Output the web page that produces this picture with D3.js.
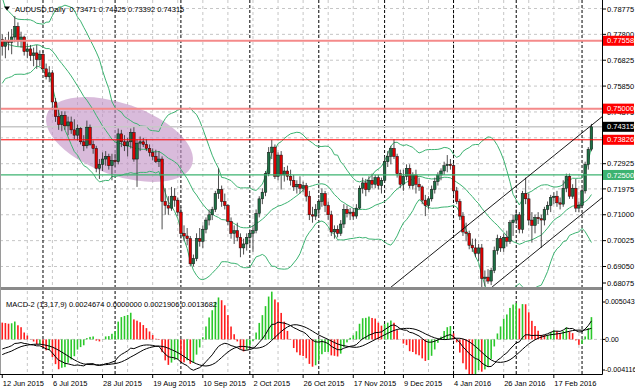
<!DOCTYPE html>
<html><head><meta charset="utf-8">
<script src="https://cdn.jsdelivr.net/npm/d3@7"></script>
<style>body{margin:0;background:#fff}svg{display:block}text{font-family:"Liberation Sans",Arial,sans-serif;font-size:7.5px}</style>
</head><body><svg id="c" width="635" height="391"></svg>
<script>
// ---------- DATA ----------
// closes before 12 Jun 2015 (off-screen, only for indicator warm-up)
const warmupCloses = [0.7915,0.7830,0.7805,0.7890,0.8000,0.7980,0.7895,0.7915,0.7965,0.8065,0.8120,0.8095,0.7955,0.7850,0.7840,0.7870,0.7790,0.7780,0.7730,0.7690,0.7675,0.7645,0.7630,0.7760,0.7790,0.7720,0.7640,0.7710,0.7765,0.7800,0.7760];
const opens = [
.7760,.7735,.7755,.7750,.7770,.7810,.7755,.7770,.7715,.7725,
.7700,.7710,.7685,.7705,.7650,.7620,.7635,.7525,.7470,.7440,
.7475,.7435,.7450,.7420,.7400,.7425,.7375,.7360,.7430,.7365,
.7350,.7275,.7290,.7310,.7320,.7285,.7305,.7300,.7405,.7375,
.7360,.7375,.7410,.7310,.7370,.7375,.7365,.7350,.7335,.7320,
.7300,.7310,.7150,.7135,.7125,.7170,.7155,.7110,.7030,.7020,
.7010,.6915,.6935,.7010,.7000,.7045,.7080,.7100,.7120,.7180,
.7195,.7150,.7135,.7075,.7030,.7040,.7015,.6975,.6990,.7015,
.7030,.7040,.7105,.7160,.7185,.7255,.7335,.7355,.7245,.7325,
.7250,.7265,.7245,.7230,.7205,.7215,.7200,.7210,.7170,.7100,
.7095,.7120,.7150,.7180,.7135,.7100,.7035,.7045,.7030,.7065,
.7120,.7105,.7110,.7095,.7125,.7200,.7220,.7195,.7230,.7215,
.7240,.7210,.7230,.7300,.7320,.7350,.7320,.7255,.7215,.7245,
.7275,.7210,.7250,.7215,.7205,.7155,.7135,.7160,.7195,.7225,
.7250,.7265,.7285,.7290,.7285,.7190,.7150,.7095,.7035,.7030,
.6985,.6975,.6955,.6975,.6860,.6865,.6850,.6890,.6965,.7010,
.6975,.7015,.7000,.7070,.7080,.7100,.7045,.7180,.7160,.7080,
.7060,.7090,.7085,.7080,.7120,.7135,.7165,.7170,.7145,.7140,
.7200,.7245,.7170,.7200,.7125,.7135,.7190,.7290,.73471];
const highs = [
.7780,.7770,.7790,.7800,.7849,.7825,.7790,.7775,.7745,.7740,
.7730,.7740,.7720,.7720,.7670,.7660,.7645,.7540,.7500,.7490,
.7490,.7470,.7470,.7460,.7440,.7430,.7400,.7455,.7440,.7380,
.7360,.7310,.7335,.7340,.7330,.7330,.7330,.7425,.7420,.7400,
.7390,.7425,.7430,.7385,.7395,.7390,.7385,.7365,.7350,.7345,
.7340,.7320,.7200,.7170,.7205,.7200,.7165,.7130,.7060,.7050,
.7020,.6950,.7030,.7050,.7060,.7090,.7120,.7130,.7190,.7275,
.7210,.7180,.7140,.7090,.7060,.7070,.7030,.7010,.7030,.7045,
.7060,.7120,.7170,.7200,.7265,.7355,.7382,.7365,.7335,.7340,
.7280,.7285,.7270,.7250,.7230,.7245,.7225,.7220,.7190,.7130,
.7140,.7160,.7200,.7190,.7150,.7115,.7060,.7060,.7080,.7140,
.7135,.7125,.7125,.7140,.7210,.7240,.7235,.7245,.7255,.7250,
.7250,.7240,.7320,.7340,.7360,.7385,.7330,.7270,.7270,.7290,
.7290,.7260,.7270,.7240,.7210,.7175,.7170,.7210,.7240,.7260,
.7275,.7300,.7325,.7310,.7295,.7205,.7160,.7110,.7070,.7040,
.7010,.7010,.6990,.6990,.6890,.6895,.6900,.6980,.7025,.7020,
.7030,.7040,.7080,.7100,.7120,.7110,.7190,.7240,.7180,.7110,
.7100,.7110,.7100,.7130,.7150,.7175,.7185,.7190,.7165,.7230,
.7255,.7255,.7215,.7235,.7150,.7200,.7300,.7355,.74425];
const lows = [
.7700,.7690,.7720,.7705,.7750,.7735,.7730,.7700,.7690,.7680,
.7660,.7650,.7660,.7640,.7610,.7600,.7495,.7450,.7420,.7415,
.7420,.7400,.7405,.7385,.7380,.7365,.7340,.7350,.7360,.7330,
.7260,.7235,.7265,.7285,.7270,.7230,.7280,.7290,.7355,.7340,
.7320,.7350,.7300,.7205,.7340,.7355,.7340,.7320,.7305,.7295,
.7280,.7045,.7100,.7100,.7115,.7130,.7095,.7010,.7000,.6985,
.6905,.6905,.6925,.6980,.6975,.7030,.7060,.7080,.7110,.7160,
.7130,.7120,.7060,.7010,.6990,.7000,.6940,.6950,.6965,.6985,
.6960,.7030,.7090,.7140,.7170,.7245,.7310,.7235,.7230,.7195,
.7225,.7230,.7210,.7190,.7180,.7180,.7185,.7150,.7080,.7070,
.7080,.7100,.7130,.7110,.7080,.7020,.7010,.7015,.7020,.7050,
.7090,.7080,.7080,.7085,.7120,.7180,.7170,.7185,.7200,.7200,
.7195,.7180,.7220,.7280,.7290,.7310,.7240,.7200,.7190,.7230,
.7200,.7195,.7180,.7190,.7140,.7095,.7120,.7150,.7180,.7210,
.7230,.7250,.7260,.7270,.7175,.7140,.7080,.7020,.7000,.6970,
.6960,.6940,.6925,.6827,.6830,.6840,.6835,.6880,.6950,.6960,
.6960,.6980,.6990,.7020,.7065,.7030,.7030,.7140,.7060,.6995,
.7030,.7065,.6975,.7060,.7100,.7110,.7140,.7130,.7120,.7130,
.7185,.7160,.7160,.7110,.7110,.7125,.7180,.7270,.73392];
const closes = [
.7735,.7755,.7750,.7770,.7810,.7755,.7770,.7715,.7725,.7700,
.7710,.7685,.7705,.7650,.7620,.7635,.7525,.7470,.7440,.7475,
.7435,.7450,.7420,.7400,.7425,.7375,.7360,.7430,.7365,.7350,
.7275,.7290,.7310,.7320,.7285,.7305,.7300,.7405,.7375,.7360,
.7375,.7410,.7310,.7370,.7375,.7365,.7350,.7335,.7320,.7300,
.7310,.7150,.7135,.7125,.7170,.7155,.7110,.7030,.7020,.7010,
.6915,.6935,.7010,.7000,.7045,.7080,.7100,.7120,.7180,.7195,
.7150,.7135,.7075,.7030,.7040,.7015,.6975,.6990,.7015,.7030,
.7040,.7105,.7160,.7185,.7255,.7335,.7355,.7245,.7325,.7250,
.7265,.7245,.7230,.7205,.7215,.7200,.7210,.7170,.7100,.7095,
.7120,.7150,.7180,.7135,.7100,.7035,.7045,.7030,.7065,.7120,
.7105,.7110,.7095,.7125,.7200,.7220,.7195,.7230,.7215,.7240,
.7210,.7230,.7300,.7320,.7350,.7320,.7255,.7215,.7245,.7275,
.7210,.7250,.7215,.7205,.7155,.7135,.7160,.7195,.7225,.7250,
.7265,.7285,.7290,.7285,.7190,.7150,.7095,.7035,.7030,.6985,
.6975,.6955,.6975,.6860,.6865,.6850,.6890,.6965,.7010,.6975,
.7015,.7000,.7070,.7080,.7100,.7045,.7180,.7160,.7080,.7060,
.7090,.7085,.7080,.7120,.7135,.7165,.7170,.7145,.7140,.7200,
.7245,.7170,.7200,.7125,.7135,.7190,.7290,.7347,.74315];
const firstDate = "2015-06-12";
const holidays = ["2015-12-25","2016-01-01"];
const priceTicks = ["0.78775","0.77800","0.76825","0.75850","0.74875","0.73900","0.72925","0.71975","0.71000","0.70025","0.69050","0.68075"];
const dateTicks = ["12 Jun 2015","6 Jul 2015","28 Jul 2015","19 Aug 2015","10 Sep 2015","2 Oct 2015","26 Oct 2015","17 Nov 2015","9 Dec 2015","4 Jan 2016","26 Jan 2016","17 Feb 2016"];
const macdTicks = ["0.005043","0.00","-0.004116"];
const levelPrices = [0.77558, 0.75000, 0.73826, 0.72500];
const levelKinds = ["soft","soft","hard","support"];
const channelUpper = [[123.7,0.68240],[190.1,0.74572]];
const channelLower = [[156.3,0.68277],[191.3,0.71632]];
const ellipseAxis = [[14.28,0.74798],[60.54,0.72876]];
const ellipseRatio = 0.468;
const headerText = "AUDUSD,Daily  0.73471 0.74425 0.73392 0.74315";
const macdTitle = "MACD-2 (13,17,9) 0.0024674 0.0000000 0.0021906 0.0013682";

// ---------- LAYOUT / STYLE ----------
const L=0, R=602, mainTop=0, mainBot=287, macdTop=291, macdBot=374;
const C = {grid:"#c6c6c6", bull:"#1d7044", bear:"#e00000", band:"#3cb371",
  soft:"#f48a8a", hard:"#ff0000", support:"#3cb371", up:"#2bc82b", down:"#ff1c1c"};
const levelStyle = {soft:{c:C.soft,w:2,box:"#ff0000"}, hard:{c:C.hard,w:1,box:"#ff0000"}, support:{c:C.support,w:1.3,box:"#3cb371"}};

const svg = d3.select("#c");
const N = closes.length;
const x = d3.scaleLinear().domain([-0.72, 191.37]).range([L, R]);
const y = d3.scaleLinear().domain([0.68277, 0.79095]).range([mainBot, mainTop]);
const ym = d3.scaleLinear().domain([-0.004116, 0.005043]).range([macdBot, 297]);

// dates
const fmtISO = d3.timeFormat("%Y-%m-%d"), fmtLbl = d3.timeFormat("%-d %b %Y");
const dates = []; let dd = d3.timeParse("%Y-%m-%d")(firstDate);
while (dates.length < N) { const wd = dd.getDay(); if (wd!==0 && wd!==6 && !holidays.includes(fmtISO(dd))) dates.push(new Date(dd)); dd = d3.timeDay.offset(dd,1); }

// indicators
const all = warmupCloses.concat(closes), off = warmupCloses.length;
const bbMid=[], bbUp=[], bbLo=[];
for (let i=0;i<N;i++){ const w = all.slice(i+off-19, i+off+1); const m=d3.mean(w); const sd=Math.sqrt(d3.mean(w,v=>(v-m)*(v-m))); bbMid.push(m); bbUp.push(m+2*sd); bbLo.push(m-2*sd); }
function ema(arr,p){ const k=2/(p+1); const out=[arr[0]]; for(let i=1;i<arr.length;i++) out.push(arr[i]*k+out[i-1]*(1-k)); return out; }
const e13=ema(all,13), e17=ema(all,17);
const macdAll = all.map((v,i)=>e13[i]-e17[i]);
const sigAll = macdAll.map((v,i)=> i<8 ? v : d3.mean(macdAll.slice(i-8,i+1)));
const macd = macdAll.slice(off), signal = sigAll.slice(off);
const hist = macd.map((v,i)=>3*(v-signal[i]));
const histPrev = i => i>0 ? hist[i-1] : 3*(macdAll[off-1]-sigAll[off-1]);

// clips
const defs = svg.append("defs");
defs.append("clipPath").attr("id","cm").append("rect").attr("x",L).attr("y",mainTop).attr("width",R-L).attr("height",mainBot-mainTop);
defs.append("clipPath").attr("id","cd").append("rect").attr("x",L).attr("y",macdTop).attr("width",R-L).attr("height",macdBot-macdTop);

const gMain = svg.append("g").attr("clip-path","url(#cm)");
const gMacd = svg.append("g").attr("clip-path","url(#cd)");

// grid
const gridIdx = d3.range(8, N+3, 8);
[gMain,gMacd].forEach((g,k)=>{
  const y0 = k? macdTop: mainTop, y1 = k? macdBot: mainBot;
  g.selectAll(null).data(gridIdx).join("line").attr("x1",d=>x(d)).attr("x2",d=>x(d)).attr("y1",y0).attr("y2",y1)
    .attr("stroke",C.grid).attr("stroke-dasharray","3,3");
});
gMain.selectAll(null).data(priceTicks).join("line").attr("x1",L).attr("x2",R).attr("y1",d=>y(+d)).attr("y2",d=>y(+d))
  .attr("stroke",C.grid).attr("stroke-dasharray","3,3");
gMacd.append("line").attr("x1",L).attr("x2",R).attr("y1",ym(0)).attr("y2",ym(0)).attr("stroke",C.grid).attr("stroke-dasharray","3,3");

// month separators
const seps = d3.range(1,N).filter(i=>dates[i].getMonth()!==dates[i-1].getMonth());
[gMain,gMacd].forEach((g,k)=>{
  g.selectAll(null).data(seps).join("line").attr("x1",d=>x(d)).attr("x2",d=>x(d)).attr("y1",k?macdTop:mainTop).attr("y2",k?macdBot:mainBot)
    .attr("stroke","#000").attr("stroke-dasharray","3,2");
});

// ellipse
{
  const p1=[x(ellipseAxis[0][0]),y(ellipseAxis[0][1])], p2=[x(ellipseAxis[1][0]),y(ellipseAxis[1][1])];
  const cx=(p1[0]+p2[0])/2, cy=(p1[1]+p2[1])/2, a=Math.hypot(p2[0]-p1[0],p2[1]-p1[1])/2;
  const ang=Math.atan2(p2[1]-p1[1],p2[0]-p1[0])*180/Math.PI;
  gMain.append("ellipse").attr("cx",0).attr("cy",0).attr("rx",a).attr("ry",a*ellipseRatio)
    .attr("transform",`translate(${cx},${cy}) rotate(${ang})`).attr("fill","#c192c5").attr("opacity",0.62);
}

// bollinger
const idx = d3.range(N);
[bbUp,bbMid,bbLo].forEach(arr=>{
  gMain.append("path").attr("d",d3.line().x(i=>x(i)).y(i=>y(arr[i]))(idx)).attr("fill","none").attr("stroke",C.band).attr("stroke-width",1);
});

// current price line
gMain.append("line").attr("x1",L).attr("x2",R).attr("y1",y(closes[N-1])).attr("y2",y(closes[N-1])).attr("stroke","#c8c8c8").attr("stroke-width",1.6);

// candles
const cg = gMain.append("g");
cg.selectAll("line.w").data(idx).join("line").attr("class","w").attr("x1",i=>x(i)).attr("x2",i=>x(i))
  .attr("y1",i=>y(highs[i])).attr("y2",i=>y(lows[i])).attr("stroke","#3a3a3a").attr("stroke-width",0.9);
cg.selectAll("rect").data(idx).join("rect").attr("x",i=>x(i)-1.3).attr("width",2.6)
  .attr("y",i=>y(Math.max(opens[i],closes[i]))).attr("height",i=>Math.max(0.8,Math.abs(y(opens[i])-y(closes[i]))))
  .attr("fill",i=>closes[i]>=opens[i]?C.bull:C.bear).attr("stroke","#111").attr("stroke-width",0.5);

// level lines
levelPrices.forEach((p,k)=>{ const s=levelStyle[levelKinds[k]];
  gMain.append("line").attr("x1",L).attr("x2",R).attr("y1",y(p)).attr("y2",y(p)).attr("stroke",s.c).attr("stroke-width",s.w); });

// channel
[channelUpper,channelLower].forEach(([a,b])=>{
  const slope=(b[1]-a[1])/(b[0]-a[0]); const xe=x.domain()[1]; const pe=a[1]+slope*(xe-a[0]);
  gMain.append("line").attr("x1",x(a[0])).attr("y1",y(a[1])).attr("x2",x(xe)).attr("y2",y(pe)).attr("stroke","#000").attr("stroke-width",0.9);
});

// MACD histogram + lines
gMacd.selectAll("rect").data(idx).join("rect").attr("x",i=>x(i)-0.8).attr("width",1.6)
  .attr("y",i=>Math.min(ym(0),ym(hist[i]))).attr("height",i=>Math.abs(ym(hist[i])-ym(0)))
  .attr("fill",i=>hist[i]>=histPrev(i)?C.up:C.down);
[macd,signal].forEach(arr=>{
  gMacd.append("path").attr("d",d3.line().x(i=>x(i)).y(i=>ym(arr[i]))(idx)).attr("fill","none").attr("stroke","#000").attr("stroke-width",1);
});

// frame
svg.append("rect").attr("x",L).attr("y",mainBot).attr("width",R-L).attr("height",3).attr("fill","#8a8a8a");
svg.append("line").attr("x1",R+0.5).attr("x2",R+0.5).attr("y1",0).attr("y2",macdBot+0.5).attr("stroke","#000");
svg.append("line").attr("x1",L).attr("x2",R+0.5).attr("y1",macdBot+0.5).attr("y2",macdBot+0.5).attr("stroke","#000");
svg.append("line").attr("x1",0.5).attr("x2",0.5).attr("y1",0).attr("y2",macdBot).attr("stroke","#9a9a9a");

// price axis labels (a tick fully hidden under a level box is not shown, as in MT4)
const boxPrices = levelPrices.concat([closes[N-1]]);
const clampMain = v => Math.max(mainTop+9, Math.min(mainBot-4, v));
const pa = svg.append("g");
priceTicks.forEach(t=>{ const yy=clampMain(y(+t));
  pa.append("line").attr("x1",R).attr("x2",R+4).attr("y1",yy).attr("y2",yy).attr("stroke","#000");
  if (boxPrices.some(p=>Math.abs(y(p)-yy)<3)) return;
  pa.append("text").attr("x",R+5).attr("y",yy).attr("dy","0.35em").text(t); });
const clampM = v => Math.max(macdTop+11, Math.min(macdBot-4, v));
macdTicks.forEach(t=>{ const yy=clampM(ym(+t));
  pa.append("line").attr("x1",R).attr("x2",R+3).attr("y1",yy).attr("y2",yy).attr("stroke","#000");
  pa.append("text").attr("x",R+3).attr("y",yy).attr("dy","0.35em").style("font-size","7.1px").text(t); });

// level boxes
function box(p,label,fill){ const yy=y(p);
  pa.append("rect").attr("x",R+1).attr("y",yy-5).attr("width",31).attr("height",10).attr("fill",fill);
  pa.append("text").attr("x",R+5).attr("y",yy).attr("dy","0.35em").attr("fill","#fff").text(label); }
levelPrices.forEach((p,k)=>box(p,p.toFixed(5),levelStyle[levelKinds[k]].box));
box(closes[N-1], closes[N-1].toFixed(5), "#000");

// date axis
dateTicks.forEach(t=>{ const i=dates.findIndex(d=>fmtLbl(d)===t); if(i<0) return;
  svg.append("line").attr("x1",x(i)).attr("x2",x(i)).attr("y1",macdBot).attr("y2",macdBot+4).attr("stroke","#000");
  svg.append("text").attr("x",x(i)+0.5).attr("y",386).text(t); });

// titles
svg.append("path").attr("d","M4,6.5 L10,6.5 L7,10.5 Z").attr("fill","#000");
svg.append("text").attr("x",15).attr("y",11.5).attr("xml:space","preserve").text(headerText);
svg.append("text").attr("x",6).attr("y",307).text(macdTitle);
</script>
</body></html>
